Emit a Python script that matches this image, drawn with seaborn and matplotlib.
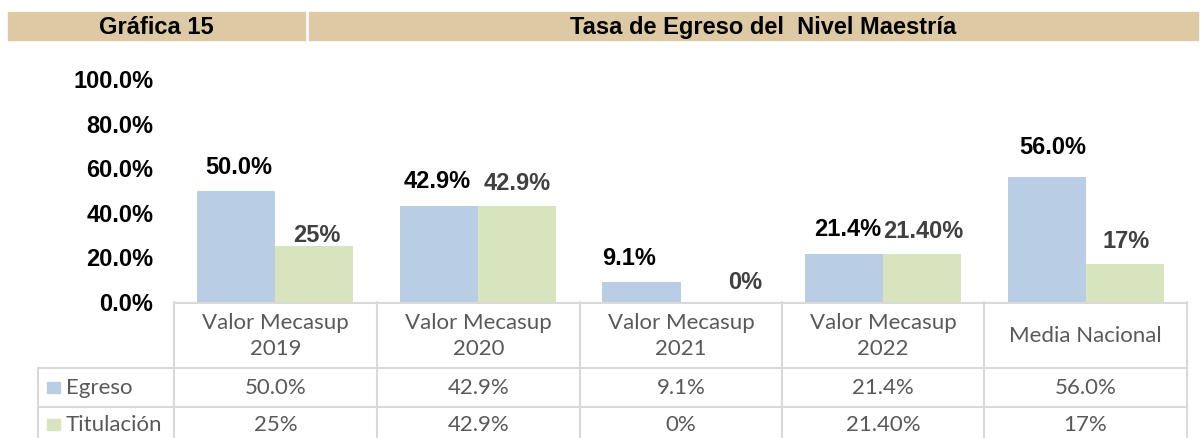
import matplotlib
matplotlib.use("Agg")
import matplotlib.pyplot as plt
import seaborn as sns
import pandas as pd
from matplotlib.lines import Line2D
from matplotlib.patches import Rectangle

categories = ["Valor Mecasup\n2019", "Valor Mecasup\n2020", "Valor Mecasup\n2021",
              "Valor Mecasup\n2022", "Media Nacional"]
series = ["Egreso", "Titulación"]
egreso = [50.0, 42.9, 9.1, 21.4, 56.0]
titulacion = [25.0, 42.9, 0.0, 21.4, 17.0]
egreso_labels = ["50.0%", "42.9%", "9.1%", "21.4%", "56.0%"]
titulacion_labels = ["25%", "42.9%", "0%", "21.40%", "17%"]
yticks = [0, 20, 40, 60, 80, 100]
header_left = "Gráfica 15"
header_title = "Tasa de Egreso del  Nivel Maestría"

# label nudges (pixels): horizontal shift, gap above bar top
egreso_dx = [2, -2, -12, 4, 6]
egreso_gap = [16, 18, 17, 18, 23]
titul_dx = [3, 0, 26, 1, 1]
titul_gap = [4, 16, 13, 16, 16]

W, H = 1202, 438
BLUE = "#B9CDE5"
GREEN = "#D7E4BD"
HEAD = "#DDC9A3"
GRID = "#D9D9D9"
TXT = "#595959"

sns.set_theme(style="white")
plt.rcParams['font.family'] = ['Liberation Sans', 'DejaVu Sans']

df = pd.DataFrame({
    "cat": categories * 2,
    "serie": [series[0]] * 5 + [series[1]] * 5,
    "val": egreso + titulacion,
})

fig = plt.figure(figsize=(W / 100, H / 100), dpi=100)

def fx(x):
    return x / W

def fy(y):
    return 1 - y / H

cols = [174, 377, 580, 782, 984, 1187]
ax_left, ax_right, ax_top, ax_bot = cols[0], cols[-1], 79, 302
ax = fig.add_axes([fx(ax_left), fy(ax_bot), (ax_right - ax_left) / W, (ax_bot - ax_top) / H])
BW = 0.77
sns.barplot(data=df, x="cat", y="val", hue="serie", palette=[BLUE, GREEN],
            width=BW, gap=0, ax=ax, legend=False, saturation=1, linewidth=0)
ax.set_xlim(-0.5, 4.5)
ax.set_ylim(0, 100)
ax.set_yticks(yticks)
ax.set_yticklabels([f"{v:.1f}%" for v in yticks], fontsize=17, fontweight="bold", color="black")
ax.tick_params(axis="y", length=0, pad=15)
ax.tick_params(axis="x", length=0)
ax.set_xticklabels([])
ax.set_xlabel("")
ax.set_ylabel("")
for s in ax.spines.values():
    s.set_visible(False)

PT = 0.72  # points per pixel at dpi 100
bw = BW / 2
for i in range(5):
    ax.annotate(egreso_labels[i], (i - bw / 2, egreso[i]),
                xytext=(egreso_dx[i] * PT, egreso_gap[i] * PT),
                textcoords="offset points", ha="center", va="baseline",
                fontsize=17, fontweight="bold", color="black", annotation_clip=False)
    ax.annotate(titulacion_labels[i], (i + bw / 2, titulacion[i]),
                xytext=(titul_dx[i] * PT, titul_gap[i] * PT),
                textcoords="offset points", ha="center", va="baseline",
                fontsize=17, fontweight="bold", color="#404040", annotation_clip=False)

# Header bars
fig.patches.append(Rectangle((fx(8), fy(40)), (305 - 8) / W, 28 / H,
                             transform=fig.transFigure, color=HEAD, zorder=0))
fig.patches.append(Rectangle((fx(309), fy(40)), (1198 - 309) / W, 28 / H,
                             transform=fig.transFigure, color=HEAD, zorder=0))
fig.text(fx(156.5), fy(34), header_left, ha="center", va="baseline",
         fontsize=17, fontweight="bold", color="black")
fig.text(fx(763), fy(34), header_title, ha="center", va="baseline",
         fontsize=17, fontweight="bold", color="black")

# Data table
def hline(x0, x1, y):
    fig.lines.append(Line2D([fx(x0), fx(x1)], [fy(y), fy(y)], transform=fig.transFigure,
                            color=GRID, lw=1.5))

def vline(x, y0, y1):
    fig.lines.append(Line2D([fx(x), fx(x)], [fy(y0), fy(y1)], transform=fig.transFigure,
                            color=GRID, lw=1.5))

hline(cols[0], cols[-1], 303)
hline(38, cols[-1], 368)
hline(38, cols[-1], 407)
for c in cols:
    vline(c, 302, 440)
vline(38, 368, 440)

tfont = dict(family=["Lato", "DejaVu Sans"], fontsize=16, color=TXT)
for i, cat in enumerate(categories):
    cx = (cols[i] + cols[i + 1]) / 2
    fig.text(fx(cx), fy(336), cat, ha="center", va="center", linespacing=1.35, **tfont)
    fig.text(fx(cx), fy(388), egreso_labels[i], ha="center", va="center", **tfont)
    fig.text(fx(cx), fy(425), titulacion_labels[i], ha="center", va="center", **tfont)

for name, col, yc in [(series[0], BLUE, 388), (series[1], GREEN, 425)]:
    fig.patches.append(Rectangle((fx(47), fy(yc + 5)), 13 / W, 11 / H,
                                 transform=fig.transFigure, color=col))
    fig.text(fx(66), fy(yc), name, ha="left", va="center", **tfont)

fig.savefig("out.png", dpi=100)
